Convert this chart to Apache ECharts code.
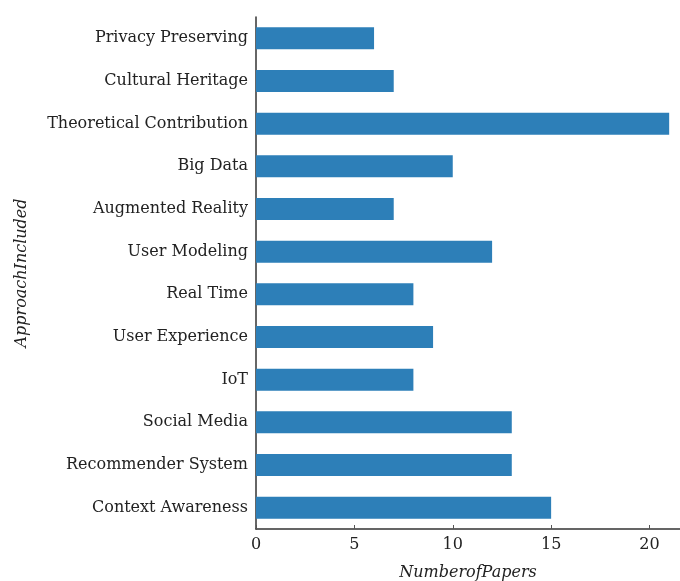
<!DOCTYPE html>
<html><head><meta charset="utf-8">
<script src="https://cdn.jsdelivr.net/npm/echarts@6/dist/echarts.min.js"></script>
<style>html,body{margin:0;padding:0;background:#fff}#c{width:680px;height:581px}</style>
</head><body><div id="c"></div>
<script>
const categories = ["Privacy Preserving","Cultural Heritage","Theoretical Contribution","Big Data","Augmented Reality","User Modeling","Real Time","User Experience","IoT","Social Media","Recommender System","Context Awareness"];
const paperCounts = [6,7,21,10,7,12,8,9,8,13,13,15];
const xTicks = [0,5,10,15,20];
const FONT = "DejaVu Serif";
const chart = echarts.init(document.getElementById('c'));
chart.setOption({
  animation:false,
  grid:{left:256,right:0,top:17,bottom:52,containLabel:false,outerBoundsMode:'none'},
  xAxis:{type:'value',min:0,max:21.55,interval:5,
    name:'NumberofPapers',nameLocation:'middle',nameGap:36,
    nameTextStyle:{fontFamily:FONT,fontStyle:'italic',fontSize:16,color:'#222'},
    axisLine:{show:true,lineStyle:{color:'#333',width:1.5}},
    axisTick:{show:true,inside:true,length:4,customValues:xTicks,lineStyle:{color:'#555'}},
    axisLabel:{customValues:xTicks,fontFamily:FONT,fontSize:16,color:'#222',margin:8},
    splitLine:{show:false}},
  yAxis:{type:'category',data:categories,inverse:true,
    name:'ApproachIncluded',nameLocation:'middle',nameGap:226,
    nameTextStyle:{fontFamily:FONT,fontStyle:'italic',fontSize:16,color:'#222'},
    axisLine:{show:true,lineStyle:{color:'#333',width:1.5}},
    axisTick:{show:false},
    axisLabel:{fontFamily:FONT,fontSize:16,color:'#222',margin:8}},
  series:[{type:'bar',data:paperCounts,barWidth:22,itemStyle:{color:'#2d7fb8'}}]
});
</script></body></html>
